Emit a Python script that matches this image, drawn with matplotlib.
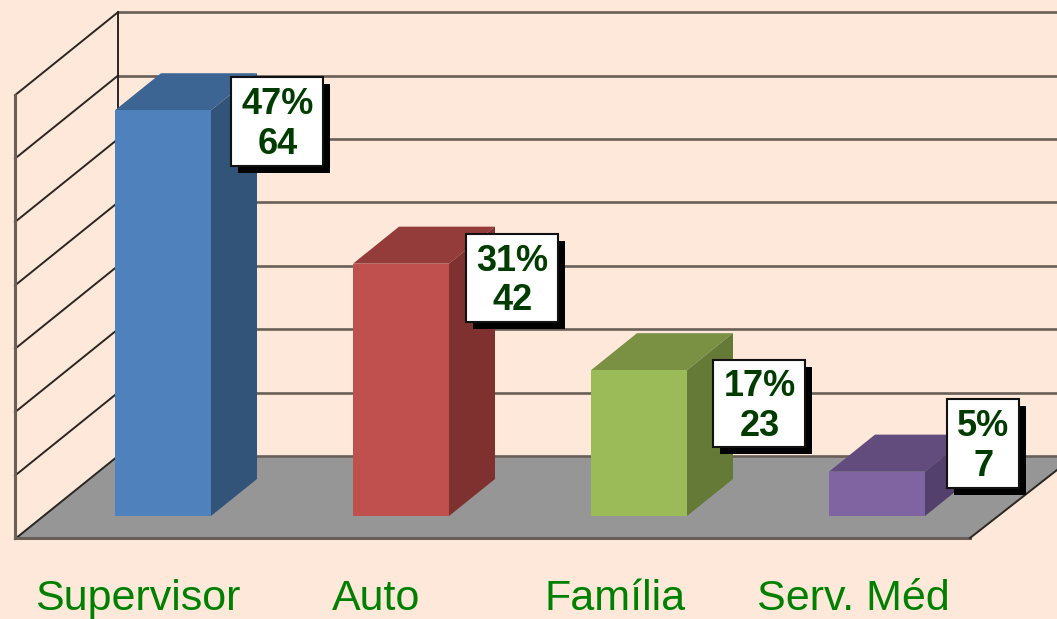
from matplotlib import pyplot as plt
from matplotlib.patches import Polygon, Rectangle

categories = ["Supervisor", "Auto", "Família", "Serv. Méd"]
values = [64, 42, 23, 7]
# the drawn bars (the Auto bar is drawn lower than its label)
bar_heights = [64, 39.8, 23, 7]
percents = ["47%", "31%", "17%", "5%"]
grid_values = [0, 10, 20, 30, 40, 50, 60, 70]

front_colors = ["#4f81bd", "#c0504d", "#9bbb59", "#8064a2"]
top_colors = ["#3d6594", "#943c3a", "#7a9144", "#624c7e"]
side_colors = ["#325478", "#7f312f", "#667a38", "#53406c"]

bg = "#fee8da"
line_color = "#6a5f56"
dark_line = "#2a2622"
text_green = "#003c00"
label_green = "#008000"

# all layout is in image pixels
scale = 6.34
floor_back = 456
floor_front = 538
wall_x = 118
wall_dx = 103
wall_dy = 83
bar_base = 516
bar_left = 115
bar_step = 238
bar_w = 96
depth_x = 46
depth_y = 37

box_left = [231, 466, 713, 947]
box_top = [77, 234, 360, 399]
box_w = [92, 92, 92, 72]
box_h = [89, 88, 87, 89]
label_x = [138, 376, 615, 853]

plt.rcParams["font.family"] = ["Liberation Sans", "DejaVu Sans"]

fig = plt.figure(figsize=(10.57, 6.19), dpi=100, facecolor=bg)
ax = fig.add_axes([0, 0, 1, 1])
ax.set_xlim(0, 1057)
ax.set_ylim(619, 0)
ax.axis("off")


def wall_y(v):
    return floor_back - v * scale


# floor
ax.add_patch(
    Polygon(
        [
            (wall_x, floor_back),
            (1057, floor_back),
            (1057, 470),
            (970, floor_front),
            (wall_x - wall_dx, floor_front),
        ],
        facecolor="#969696",
        edgecolor="none",
        zorder=1,
    )
)

# back wall and side wall lines
for v in grid_values:
    y = wall_y(v)
    ax.plot([wall_x, 1057], [y, y], color=line_color, lw=1.9, zorder=2)
    ax.plot(
        [wall_x, wall_x - wall_dx], [y, y + wall_dy], color=dark_line, lw=1.4, zorder=2
    )
ax.plot([wall_x, wall_x], [wall_y(70), floor_back], color=dark_line, lw=1.4, zorder=2)
ax.plot(
    [wall_x - wall_dx, wall_x - wall_dx],
    [wall_y(70) + wall_dy, floor_front],
    color=line_color,
    lw=2.2,
    zorder=2,
)
ax.plot([wall_x - wall_dx, 970], [floor_front, floor_front], color=line_color, lw=2.2, zorder=2)
ax.plot([970, 1057], [floor_front, 470], color=dark_line, lw=1.4, zorder=2)

# bars
for i, h in enumerate(bar_heights):
    x0 = bar_left + i * bar_step
    x1 = x0 + bar_w
    top = bar_base - h * scale
    ax.add_patch(
        Polygon(
            [
                (x0, top),
                (x1, top),
                (x1 + depth_x, top - depth_y),
                (x0 + depth_x, top - depth_y),
            ],
            facecolor=top_colors[i],
            edgecolor="none",
            zorder=3,
        )
    )
    ax.add_patch(
        Polygon(
            [
                (x1, top),
                (x1 + depth_x, top - depth_y),
                (x1 + depth_x, bar_base - depth_y),
                (x1, bar_base),
            ],
            facecolor=side_colors[i],
            edgecolor="none",
            zorder=3,
        )
    )
    ax.add_patch(
        Rectangle((x0, top), bar_w, h * scale, facecolor=front_colors[i], edgecolor="none", zorder=4)
    )

# value boxes with hard shadow
for i, v in enumerate(values):
    ax.add_patch(
        Rectangle(
            (box_left[i] + 7, box_top[i] + 7),
            box_w[i],
            box_h[i],
            facecolor="black",
            edgecolor="none",
            zorder=5,
        )
    )
    ax.add_patch(
        Rectangle(
            (box_left[i], box_top[i]),
            box_w[i],
            box_h[i],
            facecolor="white",
            edgecolor="#111111",
            lw=1.5,
            zorder=6,
        )
    )
    ax.text(
        box_left[i] + box_w[i] / 2 + 0.5,
        box_top[i] + box_h[i] / 2 + 3,
        f"{percents[i]}\n{v}",
        ha="center",
        va="center",
        fontsize=26,
        fontweight="bold",
        color=text_green,
        linespacing=1.17,
        zorder=7,
    )

for i, name in enumerate(categories):
    ax.text(
        label_x[i],
        610,
        name,
        ha="center",
        va="baseline",
        fontsize=31,
        color=label_green,
        zorder=7,
    )

fig.savefig("out.png", dpi=100, facecolor=bg)
